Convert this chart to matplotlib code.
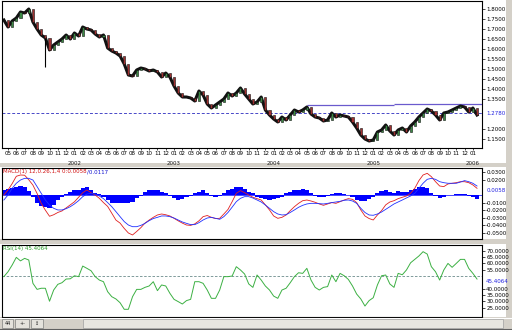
import numpy as np
import pandas as pd
import matplotlib
matplotlib.use("Agg")
import matplotlib.pyplot as plt
from matplotlib.patches import Rectangle

# half-month bars, May 2001 .. Jan 2006
close = [1.745, 1.71, 1.74, 1.755, 1.785, 1.78, 1.80, 1.735, 1.70, 1.67,
         1.655, 1.595, 1.62, 1.635, 1.65, 1.67, 1.65, 1.68, 1.665, 1.71,
         1.70, 1.695, 1.675, 1.66, 1.67, 1.605, 1.59, 1.58, 1.565, 1.525,
         1.47, 1.465, 1.495, 1.505, 1.50, 1.49, 1.495, 1.485, 1.46, 1.48,
         1.46, 1.415, 1.38, 1.36, 1.36, 1.355, 1.34, 1.39, 1.37, 1.325,
         1.305, 1.32, 1.335, 1.35, 1.38, 1.365, 1.38, 1.405, 1.375, 1.35,
         1.325, 1.335, 1.36, 1.295, 1.27, 1.25, 1.235, 1.26, 1.245, 1.27,
         1.295, 1.285, 1.295, 1.31, 1.275, 1.26, 1.255, 1.24, 1.245, 1.28,
         1.26, 1.27, 1.265, 1.26, 1.235, 1.205, 1.17, 1.15, 1.14, 1.145,
         1.185, 1.195, 1.22, 1.19, 1.17, 1.195, 1.205, 1.185, 1.215, 1.235,
         1.26, 1.28, 1.30, 1.29, 1.27, 1.245, 1.28, 1.285, 1.295, 1.305,
         1.315, 1.31, 1.285, 1.305, 1.27]
spike_bar, spike_low = 10, 1.51
current_price = 1.2780
res_start, res_step, res_levels = 73, 94, [1.3225, 1.3275]

# MACD values in thousandths
macd_hist = [6, 8, 9, 10, 12, 11, 5, -3, -10, -14, -16, -17, -13, -7, -2, 1, 4, 6, 7, 9,
             10, 6, 3, 1, -2, -7, -10, -11, -11, -11, -11, -9, -4, -1, 4, 7, 7, 6, 4, 3,
             -1, -4, -6, -5, -3, -1, 2, 4, 7, 3, -1, -2, -1, 3, 7, 8, 10, 11, 8, 4,
             2, -2, -4, -5, -6, -5, -4, -2, 2, 4, 6, 7, 8, 6, 3, -1, -2, -2, -1, 1,
             3, 2, 1, 0, -2, -6, -8, -8, -5, -2, 3, 5, 6, 4, 3, 5, 4, 4, 6, 8,
             10, 10, 9, 2, -1, -4, -3, 0, 0, 1, 1, 1, -1, -3, -5]
macd_red = [0, 6.6, 15, 24.6, 26.3, 26, 20, 13, 2, -11, -20, -28, -26, -23, -21, -17, -13, -9, -3, 3,
            6.6, 3, 0, -4.4, -10, -15, -24, -33, -37, -44, -50, -52.6, -48, -43, -37, -33, -29.4, -26.3, -25, -26,
            -27.6, -30.7, -34, -37, -39.5, -40, -38, -34, -28.5, -27, -29.4, -31, -30.7, -25, -19, -8.8, 2.2, 5.7, 3, 0,
            -3, -4.8, -6.6, -13, -19.7, -27.6, -30.7, -29.4, -26.3, -20.6, -15.4, -11, -7.5, -6.6, -7.9, -9.6, -11.8, -13.6, -11.8, -10,
            -11, -8.8, -6.6, -4.8, -5.7, -10, -19.7, -27.6, -31, -32.9, -26.3, -20.6, -13, -9.2, -7.5, -4.8, -3, -1.3, 2.2, 8.8,
            18.9, 26.3, 28.5, 24.1, 17.5, 11.8, 11, 14.5, 15.4, 16.2, 17.5, 17.5, 16.2, 13.2, 8.8]
macd_blue = [-6.6, 0, 8.8, 15.4, 19.7, 21.9, 21.9, 19.7, 11, 2.2, -6.6, -13.2, -17.5, -19.7, -19.7, -18, -15.4, -11.8, -7.5, -2.2,
             1.3, 2.2, 1.3, -1.3, -4.8, -10, -15.4, -21.9, -28.5, -35, -39.5, -41.7, -41.7, -40, -37.3, -33.8, -31, -29.4, -27.6, -27.6,
             -28.5, -30.3, -32.9, -35.5, -37.3, -39, -39, -36.4, -32.9, -30.3, -29.4, -30.7, -32, -28.5, -23, -16, -8.8, -4.4, -2.2, -2.2,
             -4, -6.6, -9.2, -13.2, -17.5, -21.9, -25, -26.3, -25.9, -23, -19.7, -16.2, -13.6, -11.8, -11, -11, -11.4, -11.8, -11, -10,
             -9.2, -8.3, -7, -6.6, -7.9, -11, -17.5, -23, -26.3, -26.7, -25, -22.4, -18.9, -15.4, -11.8, -9.2, -6.6, -3.9, -1.3, 2.2,
             8.8, 15.4, 20.6, 21.9, 20.6, 17.5, 16.2, 15.4, 15.4, 15.4, 17, 18.9, 17.5, 15.4, 11.8]
macd_last = 0.0058

rsi = [49.5, 53.4, 58.7, 64.8, 62, 64, 62.7, 44.2, 39.4, 40.3, 40.3, 30, 38.9, 43.4, 44.7, 47.6, 47.8, 50.2, 49.5, 57.9,
       56.1, 54.2, 49.5, 46.8, 45.5, 37.6, 33.6, 31.8, 28.8, 23.6, 23.6, 33.6, 39.4, 39.4, 41, 42.1, 45.5, 38.4, 42.9, 42.1,
       36.3, 31.5, 29.7, 27.8, 30.5, 31.5, 45.5, 45.5, 44.2, 38.9, 32.3, 32.3, 38.9, 49.5, 49.5, 50, 57.4, 54.8, 51.6, 43.7,
       41, 50.8, 46.8, 42.1, 38.9, 34.1, 32.3, 38.9, 40.3, 44.7, 49.5, 52.6, 52.1, 56.1, 46.8, 41, 38.9, 41, 41.6, 50.8,
       45.5, 52.1, 50.2, 47.3, 42.1, 35.7, 31.8, 26.2, 30.5, 32.8, 42.9, 50.2, 50.8, 43.7, 41, 52.1, 51, 54.8, 60.5, 63.2,
       65.9, 69.3, 67.4, 57.4, 53.4, 46.8, 54.8, 60, 56.9, 60, 63.2, 63.2, 56.1, 52.1, 47.6]
rsi_last = 45.4064

month_labels = list(pd.date_range("2001-05-01", periods=57, freq="MS").strftime("%m"))
year_labels = {"2002": 8, "2003": 20, "2004": 32, "2005": 44, "2006": 56}

price_ticks = [1.80, 1.75, 1.70, 1.65, 1.60, 1.55, 1.50, 1.45, 1.40, 1.35, 1.20, 1.15]
macd_ticks = [0.03, 0.02, -0.01, -0.02, -0.03, -0.04, -0.05]
rsi_ticks = [70, 65, 60, 55, 40, 35, 30, 25]

W, H = 512, 330
GRAY = "#d4d0c8"
FS = 4


def rect(x0, y0, x1, y1):
    return [x0 / W, 1 - y1 / H, (x1 - x0) / W, (y1 - y0) / H]


fig = plt.figure(figsize=(W / 100, H / 100), dpi=100, facecolor=GRAY)

# white window backgrounds
for y0, y1 in [(0, 163), (167, 239), (244, 317)]:
    fig.patches.append(Rectangle((0, 1 - y1 / H), 506 / W, (y1 - y0) / H,
                                 transform=fig.transFigure, facecolor="white",
                                 edgecolor="none", zorder=-2))

ax = fig.add_axes(rect(2, 1, 482, 148))
ax_m = fig.add_axes(rect(2, 168, 482, 239))
ax_r = fig.add_axes(rect(2, 245, 482, 317))

n = len(close)
x = np.arange(n)
xlim = (-0.45, 115.2)

# price: thick close line with thin candle bodies on top
opens = np.array([close[0]] + close[:-1])
cl = np.array(close)
up = cl >= opens
ax.plot(x, cl, color="#111111", lw=2.2, zorder=2, solid_joinstyle="round")
ax.bar(x, np.abs(cl - opens) + 0.002, bottom=np.minimum(cl, opens) - 0.001, width=0.5,
       color=np.where(up, "#3a8a44", "#a03030"), edgecolor="#111111", linewidth=0.4, zorder=3)
ax.vlines(spike_bar, spike_low, close[spike_bar], color="black", lw=0.8, zorder=2)
ax.axhline(current_price, color="#4848c8", lw=0.7, ls=(0, (3, 2)), zorder=1)
ax.hlines(res_levels[0], res_start, res_step, color="#6a5acd", lw=0.9, zorder=1)
ax.hlines(res_levels[1], res_step, xlim[1], color="#6a5acd", lw=0.9, zorder=1)
ax.set_ylim(1.105, 1.84)
ax.set_yticks(price_ticks)
ax.set_yticklabels([f"{v:.4f}" for v in price_ticks])
ax.annotate(f"{current_price:.4f}", xy=(1, current_price), xycoords=("axes fraction", "data"),
            xytext=(3, 0), textcoords="offset points", fontsize=FS, color="#2020e0",
            va="center", ha="left")
ax.set_xticks([2 * m + 1 for m in range(len(month_labels))])
ax.set_xticklabels(month_labels)
for yr, m in year_labels.items():
    ax.annotate(yr, xy=(2 * m + 1, 0), xycoords=("data", "axes fraction"),
                xytext=(0, -9.5), textcoords="offset points", fontsize=FS,
                ha="center", va="top", color="#222222")

# MACD
mh = np.array(macd_hist) * 1e-3
ax_m.bar(x, mh, width=1.0, color="#0000ff", edgecolor="none", zorder=2)
ax_m.axhline(0, color="#0000ff", lw=0.5, zorder=1)
ax_m.plot(x, np.array(macd_red) * 1e-3, color="#e02020", lw=0.6, zorder=3)
ax_m.plot(x, np.array(macd_blue) * 1e-3, color="#2030ff", lw=0.6, zorder=3)
ax_m.set_ylim(-0.0579, 0.0355)
ax_m.set_yticks(macd_ticks)
ax_m.set_yticklabels([f"{v:.4f}" for v in macd_ticks])
ax_m.annotate(f"{macd_last:.4f}", xy=(1, macd_last), xycoords=("axes fraction", "data"),
              xytext=(3, 0), textcoords="offset points", fontsize=FS, color="#2020e0",
              va="center", ha="left")
t = ax_m.text(0.003, 0.985, "MACD(1) 12,0.26,1,4 0:0.0058", transform=ax_m.transAxes,
              fontsize=FS, color="#d01010", va="top", ha="left")
ax_m.annotate("/0.0117", xycoords=t, xy=(1, 0), va="bottom", fontsize=FS, color="#1010d0")

# RSI
ax_r.plot(x, rsi, color="#3cb043", lw=0.7, zorder=3)
ax_r.axhline(50, color="#6a8a8a", lw=0.6, ls=(0, (3, 2)), zorder=1)
ax_r.set_ylim(17.5, 74.6)
ax_r.set_yticks(rsi_ticks)
ax_r.set_yticklabels([f"{v:.4f}" for v in rsi_ticks])
ax_r.annotate(f"{rsi_last:.4f}", xy=(1, rsi_last), xycoords=("axes fraction", "data"),
              xytext=(3, 0), textcoords="offset points", fontsize=FS, color="#2020e0",
              va="center", ha="left")
ax_r.text(0.003, 0.985, f"RSI(14) {rsi_last:.4f}", transform=ax_r.transAxes,
          fontsize=FS, color="#2a9a2a", va="top", ha="left")

for a in (ax, ax_m, ax_r):
    a.set_xlim(*xlim)
    a.set_facecolor("white")
    a.yaxis.tick_right()
    a.tick_params(axis="y", labelsize=FS, length=2, pad=1, width=0.5)
    a.tick_params(axis="x", labelsize=FS, length=1.5, pad=1, width=0.5)
    for s in a.spines.values():
        s.set_linewidth(0.8)
ax_m.set_xticks([])
ax_r.set_xticks([])

# bottom tab strip
fig.patches.append(Rectangle((0, 0), 1, 13 / H, transform=fig.transFigure,
                             facecolor=GRAY, edgecolor="none", zorder=-2))
fig.add_artist(plt.Line2D([0, 1], [1 - 318 / H] * 2, color="white", lw=0.8))
fig.add_artist(plt.Line2D([0, 1], [1 - 329 / H] * 2, color="#606060", lw=0.8))
for (bx0, bx1), lab in zip([(2, 13), (15, 29), (31, 43)], ["44", "+-", "\u2195"]):
    fig.patches.append(Rectangle((bx0 / W, 1 - 328 / H), (bx1 - bx0) / W, 9 / H,
                                 transform=fig.transFigure, facecolor="#e4e2dc",
                                 edgecolor="#808080", lw=0.5, zorder=1))
    fig.text((bx0 + bx1) / 2 / W, 1 - 323.5 / H, lab, fontsize=3.5, ha="center",
             va="center", color="#202020")
fig.patches.append(Rectangle((83 / W, 1 - 328 / H), 420 / W, 9 / H,
                             transform=fig.transFigure, facecolor="#e8e6e0",
                             edgecolor="#a0a0a0", lw=0.5, zorder=1))

fig.savefig("out.png", dpi=100, facecolor=fig.get_facecolor())
